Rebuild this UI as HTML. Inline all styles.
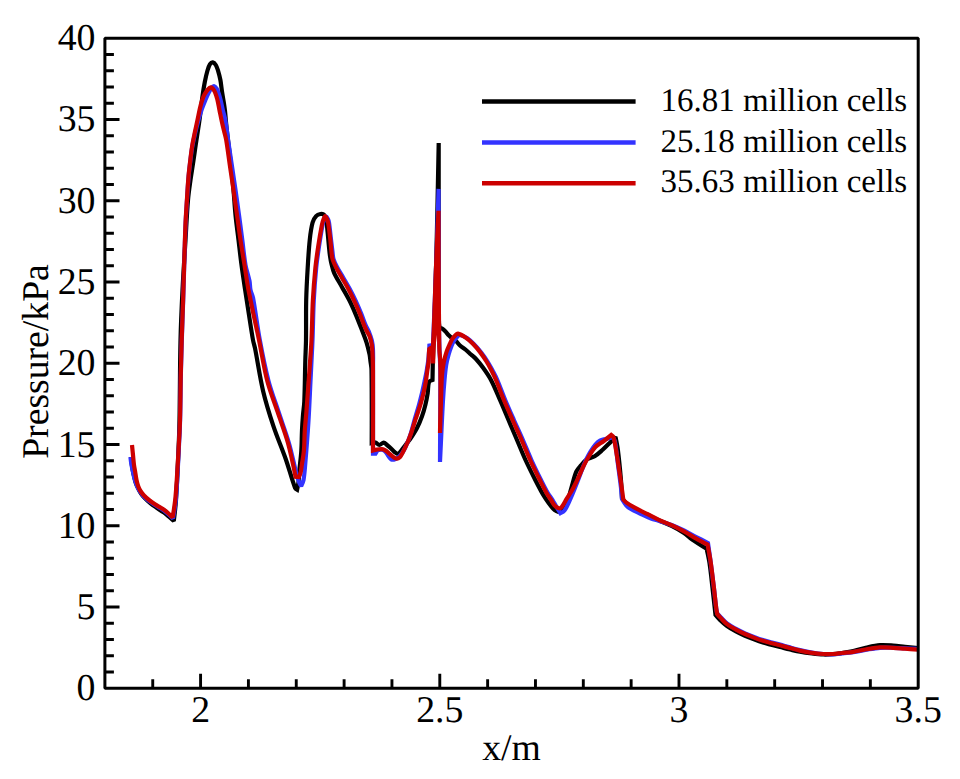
<!DOCTYPE html>
<html><head><meta charset="utf-8"><style>
html,body{margin:0;padding:0;background:#fff;}
svg{display:block;text-rendering:geometricPrecision;}
.t{font-family:"Liberation Serif",serif;font-size:37.8px;fill:#000;}
.l{font-family:"Liberation Serif",serif;font-size:33.0px;fill:#000;}
.a{font-family:"Liberation Serif",serif;font-size:37.7px;fill:#000;}
</style></head><body>
<svg width="960" height="779" viewBox="0 0 960 779">
<rect width="960" height="779" fill="#fff"/>
<path d="M131.00 457.00C131.00 457.00 131.56 463.02 132.00 466.00C132.39 468.68 132.92 471.35 133.50 474.00C134.09 476.68 134.66 479.39 135.50 482.00C136.16 484.06 137.07 486.05 138.00 488.00C138.90 489.88 139.83 491.78 141.00 493.50C142.17 495.21 143.56 496.81 145.00 498.30C146.56 499.91 148.27 501.38 150.00 502.80C151.93 504.38 153.97 505.84 156.00 507.30C157.64 508.48 159.32 509.58 161.00 510.70C162.32 511.58 163.73 512.35 165.00 513.30C166.40 514.35 167.68 515.55 169.00 516.70C170.62 518.11 173.80 521.00 173.80 521.00C173.80 521.00 175.54 507.02 176.00 500.00C177.10 483.35 177.77 466.67 178.50 450.00C178.94 440.00 179.32 430.00 179.50 420.00C179.98 393.34 179.88 366.66 180.50 340.00C180.88 323.33 181.67 306.66 182.50 290.00C183.33 273.33 184.48 256.67 185.50 240.00C186.31 226.67 186.89 213.31 188.00 200.00C188.56 193.31 189.58 186.65 190.50 180.00C191.38 173.65 192.46 167.34 193.40 161.00C194.19 155.67 194.91 150.33 195.70 145.00C196.34 140.66 197.04 136.33 197.70 132.00C198.31 128.00 198.95 124.01 199.50 120.00C200.05 116.01 200.50 112.00 201.00 108.00C201.50 104.00 201.92 99.99 202.50 96.00C203.18 91.32 203.89 86.64 204.80 82.00C205.56 78.14 206.40 74.27 207.50 70.50C208.13 68.34 208.82 66.01 210.00 64.20C210.58 63.31 211.92 62.28 212.80 62.40C213.85 62.55 215.11 63.91 215.80 65.00C216.88 66.71 217.49 68.82 218.10 70.80C219.02 73.82 219.82 76.90 220.40 80.00C221.12 83.83 221.42 87.74 222.00 91.60C222.58 95.44 223.31 99.26 223.90 103.10C224.31 105.73 224.70 108.36 225.00 111.00C225.34 113.99 225.52 117.00 225.80 120.00C226.12 123.33 226.43 126.67 226.80 130.00C227.17 133.34 227.60 136.67 228.00 140.00C229.00 148.33 230.08 156.66 231.00 165.00C231.92 173.32 232.75 181.66 233.50 190.00C234.25 198.33 234.67 206.68 235.50 215.00C236.33 223.35 237.50 231.67 238.50 240.00C239.50 248.33 240.39 256.68 241.50 265.00C242.66 273.68 244.00 282.34 245.30 291.00C246.50 299.00 247.74 307.00 249.00 315.00C250.31 323.34 251.50 331.70 253.00 340.00C253.50 342.77 254.45 345.44 255.00 348.20C257.85 362.57 259.83 377.16 263.20 391.40C265.99 403.19 269.67 414.80 273.50 426.30C277.20 437.40 281.93 448.15 285.80 459.20C289.13 468.72 291.64 478.63 295.10 488.00C295.41 488.83 297.10 489.80 297.10 489.80C297.10 489.80 298.19 484.62 298.50 482.00C298.92 478.45 298.98 474.86 299.30 471.30C299.91 464.46 300.85 457.65 301.30 450.80C301.75 443.98 301.68 437.13 302.00 430.30C302.24 425.20 302.59 420.09 303.00 415.00C303.36 410.53 304.11 406.08 304.30 401.60C304.88 387.91 304.92 374.20 305.30 360.50C305.49 353.67 305.90 346.84 306.00 340.00C306.20 326.67 305.89 313.33 306.20 300.00C306.45 289.23 307.06 278.46 307.70 267.70C308.26 258.26 308.78 248.80 309.80 239.40C310.41 233.73 311.13 227.95 312.60 222.50C313.23 220.18 314.53 217.81 316.10 216.10C317.13 214.98 318.91 214.27 320.40 214.00C321.51 213.80 323.22 213.89 323.90 214.70C325.19 216.23 325.83 218.82 326.30 221.00C327.07 224.58 327.22 228.33 327.60 232.00C328.05 236.33 328.37 240.67 328.80 245.00C329.17 248.67 329.48 252.35 330.00 256.00C330.38 258.68 330.85 261.37 331.50 264.00C332.25 267.07 332.90 270.24 334.20 273.10C336.37 277.87 339.34 282.30 341.90 286.90C344.47 291.53 347.23 296.07 349.60 300.80C351.86 305.30 353.84 309.95 355.80 314.60C357.94 319.69 359.91 324.85 361.90 330.00C363.48 334.08 365.19 338.13 366.50 342.30C367.76 346.33 368.73 350.47 369.60 354.60C370.03 356.64 370.14 358.73 370.40 360.80C370.78 363.87 371.45 366.91 371.50 370.00C371.88 394.31 371.70 443.00 371.70 443.00C371.70 443.00 374.27 442.20 375.40 442.50C376.80 442.87 377.98 445.00 379.30 445.00C380.74 445.00 382.29 442.50 383.70 442.50C384.85 442.50 385.92 444.14 387.00 445.00C388.29 446.04 389.58 447.08 390.80 448.20C392.15 449.45 393.29 450.95 394.70 452.10C395.65 452.88 396.94 454.20 397.90 454.00C399.07 453.76 400.13 451.95 401.10 450.80C402.66 448.95 404.01 446.92 405.50 445.00C406.98 443.09 408.65 441.30 410.00 439.30C412.48 435.64 414.96 431.92 417.00 428.00C418.96 424.25 420.56 420.28 422.00 416.30C423.36 412.52 424.44 408.61 425.40 404.70C426.34 400.88 427.08 396.99 427.70 393.10C428.28 389.42 427.82 385.21 429.00 382.00C429.42 380.84 432.50 380.00 432.50 380.00C432.50 380.00 432.80 363.00 432.80 363.00C432.80 363.00 434.03 334.34 434.50 320.00C435.26 296.67 435.95 273.34 436.50 250.00C437.35 214.34 438.70 143.00 438.70 143.00C438.70 143.00 438.68 214.33 438.70 250.00C438.71 266.67 438.73 283.33 438.80 300.00C438.83 307.67 438.78 315.34 439.00 323.00C439.04 324.51 439.60 327.50 439.60 327.50C439.60 327.50 441.27 328.12 442.00 328.60C443.07 329.29 444.09 330.10 445.00 331.00C446.42 332.40 447.58 334.08 449.00 335.50C450.08 336.58 451.29 337.55 452.50 338.50C453.63 339.38 454.96 340.03 456.00 341.00C457.46 342.36 458.52 344.16 460.00 345.50C461.85 347.16 464.07 348.42 466.00 350.00C467.73 351.42 469.33 353.00 471.00 354.50C472.67 356.00 474.50 357.35 476.00 359.00C478.53 361.78 480.91 364.74 483.10 367.80C485.91 371.74 488.75 375.72 491.00 380.00C494.39 386.46 497.07 393.30 500.00 400.00C502.90 406.64 505.67 413.33 508.50 420.00C511.33 426.67 514.17 433.33 517.00 440.00C519.83 446.67 522.49 453.42 525.50 460.00C528.59 466.75 531.94 473.38 535.30 480.00C537.87 485.05 540.45 490.11 543.30 495.00C545.02 497.94 547.01 500.73 549.00 503.50C550.24 505.23 551.50 507.00 553.00 508.50C554.00 509.50 555.23 510.39 556.50 511.00C557.66 511.56 559.42 512.72 560.30 512.00C562.92 509.85 565.41 505.91 567.00 502.40C569.18 497.58 570.05 492.13 571.60 487.00C573.15 481.86 574.20 476.46 576.30 471.60C577.30 469.29 579.23 467.42 580.90 465.50C582.80 463.32 584.65 460.89 587.00 459.30C589.25 457.79 592.36 457.61 594.70 456.20C597.49 454.51 599.94 452.19 602.40 450.00C605.11 447.59 607.62 444.96 610.20 442.40C611.99 440.62 615.50 437.00 615.50 437.00C615.50 437.00 617.34 445.63 617.90 450.00C619.14 459.73 620.06 469.52 620.90 479.30C621.43 485.52 622.00 498.00 622.00 498.00C622.00 498.00 624.38 501.66 626.00 503.00C628.61 505.16 631.70 506.85 634.70 508.50C638.70 510.69 642.90 512.50 647.00 514.50C651.10 516.50 655.17 518.57 659.30 520.50C663.37 522.40 667.60 523.97 671.60 526.00C675.83 528.14 680.05 530.39 684.00 533.00C686.92 534.93 689.33 537.59 692.20 539.60C696.86 542.86 706.60 548.80 706.60 548.80C706.60 548.80 708.78 558.23 709.50 563.00C710.75 571.29 711.54 579.66 712.50 588.00C713.54 597.00 715.50 615.00 715.50 615.00C715.50 615.00 718.38 618.45 720.00 620.00C722.22 622.12 724.51 624.22 727.00 626.00C729.84 628.02 732.93 629.73 736.00 631.40C738.93 633.00 741.95 634.44 745.00 635.80C747.95 637.11 750.98 638.26 754.00 639.40C756.98 640.53 759.96 641.65 763.00 642.60C765.96 643.52 768.99 644.22 772.00 645.00C774.66 645.69 777.33 646.33 780.00 647.00C783.33 647.83 786.66 648.70 790.00 649.50C793.33 650.30 796.64 651.19 800.00 651.80C803.97 652.52 807.99 653.04 812.00 653.50C815.75 653.94 819.53 654.37 823.30 654.50C826.53 654.61 829.78 654.46 833.00 654.20C836.01 653.96 839.01 653.47 842.00 653.00C845.78 652.40 849.57 651.83 853.30 651.00C857.80 650.00 862.19 648.48 866.70 647.50C871.09 646.55 875.54 645.52 880.00 645.20C884.40 644.89 888.88 645.32 893.30 645.60C897.21 645.85 901.10 646.42 905.00 646.80C909.33 647.22 918.00 648.00 918.00 648.00" fill="none" stroke="#000000" stroke-width="4.2" stroke-linejoin="miter" stroke-miterlimit="2" stroke-linecap="butt"/>
<path d="M130.40 457.00C130.40 457.00 131.04 462.35 131.50 465.00C131.91 467.35 132.48 469.67 133.00 472.00C133.52 474.34 133.95 476.70 134.60 479.00C135.22 481.20 135.94 483.39 136.80 485.50C137.50 487.22 138.32 488.92 139.30 490.50C140.39 492.26 141.60 493.98 143.00 495.50C144.67 497.31 146.56 498.97 148.50 500.50C150.56 502.13 152.79 503.56 155.00 505.00C156.63 506.06 158.34 506.99 160.00 508.00C161.34 508.82 162.75 509.56 164.00 510.50C165.41 511.56 166.68 512.82 168.00 514.00C169.68 515.49 173.00 518.50 173.00 518.50C173.00 518.50 175.42 504.88 176.00 498.00C177.32 482.31 177.87 466.54 178.70 450.80C179.24 440.54 179.81 430.27 180.10 420.00C180.54 404.34 180.57 388.67 180.90 373.00C181.13 362.00 181.45 351.00 181.80 340.00C182.22 326.67 182.77 313.33 183.20 300.00C184.00 275.33 184.56 250.66 185.50 226.00C185.83 217.33 186.46 208.66 187.00 200.00C187.49 192.16 187.94 184.32 188.60 176.50C189.04 171.32 189.67 166.16 190.30 161.00C190.87 156.33 191.41 151.64 192.20 147.00C192.94 142.64 193.89 138.31 194.90 134.00C195.99 129.31 197.22 124.65 198.50 120.00C199.42 116.65 200.37 113.29 201.50 110.00C202.67 106.62 204.04 103.31 205.40 100.00C206.37 97.64 207.35 95.27 208.50 93.00C209.38 91.27 210.31 89.50 211.50 88.00C212.11 87.23 213.13 86.12 213.90 86.20C214.79 86.29 215.87 87.56 216.50 88.50C217.40 89.83 217.94 91.46 218.50 93.00C219.24 95.06 219.86 97.17 220.40 99.30C221.30 102.84 221.95 106.45 222.80 110.00C223.48 112.85 224.43 115.63 225.00 118.50C225.76 122.30 226.25 126.16 226.80 130.00C227.28 133.33 227.62 136.67 228.10 140.00C229.29 148.34 230.57 156.67 231.80 165.00C233.03 173.33 234.30 181.66 235.50 190.00C236.70 198.33 237.87 206.66 239.00 215.00C240.13 223.33 241.22 231.66 242.30 240.00C243.38 248.33 244.05 256.74 245.50 265.00C246.45 270.41 248.42 275.62 249.50 281.00C250.09 283.95 249.88 287.06 250.50 290.00C251.05 292.63 252.51 295.05 253.00 297.70C255.61 311.72 257.19 325.96 259.80 340.00C262.35 353.73 264.98 367.50 268.50 381.00C271.24 391.50 275.20 401.68 278.60 412.00C282.00 422.34 285.87 432.55 288.90 443.00C291.67 452.55 293.51 462.37 296.00 472.00C296.87 475.37 297.79 478.75 299.00 482.00C299.53 483.42 301.20 486.00 301.20 486.00C301.20 486.00 303.12 482.09 303.50 480.00C304.49 474.53 304.83 468.88 305.30 463.30C306.46 449.61 307.53 435.91 308.40 422.20C309.27 408.48 309.81 394.73 310.50 381.00C311.18 367.33 311.94 353.67 312.50 340.00C313.04 326.67 313.12 313.32 313.80 300.00C314.35 289.22 315.16 278.44 316.20 267.70C316.89 260.61 317.95 253.55 319.00 246.50C320.05 239.42 321.12 232.32 322.50 225.30C322.92 223.15 323.55 220.99 324.40 219.00C324.79 218.09 325.61 216.60 326.20 216.60C326.78 216.60 327.48 218.12 327.90 219.00C328.42 220.09 328.82 221.29 329.00 222.50C329.85 228.09 330.33 233.77 331.00 239.40C331.50 243.60 331.96 247.80 332.50 252.00C332.80 254.34 332.82 256.76 333.50 259.00C334.32 261.73 335.67 264.35 337.00 266.90C338.93 270.59 341.21 274.09 343.30 277.70C345.38 281.29 347.54 284.84 349.50 288.50C351.67 292.54 353.76 296.64 355.70 300.80C357.59 304.84 359.32 308.97 361.00 313.10C362.65 317.17 363.99 321.36 365.70 325.40C366.66 327.66 368.08 329.72 369.00 332.00C370.15 334.86 371.23 337.80 371.90 340.80C372.57 343.80 372.88 346.92 373.00 350.00C373.25 356.65 373.00 363.33 373.00 370.00C373.00 397.87 373.00 453.60 373.00 453.60C373.00 453.60 375.50 453.60 375.50 453.60C375.50 453.60 377.50 450.20 377.50 450.20C377.50 450.20 378.83 449.85 379.50 449.80C380.49 449.72 381.59 449.50 382.50 449.80C383.59 450.16 384.69 450.94 385.50 451.80C386.65 453.01 387.37 454.65 388.40 456.00C389.33 457.22 390.15 458.97 391.40 459.50C392.52 459.97 394.27 459.51 395.50 459.00C397.07 458.35 398.59 457.23 399.80 456.00C401.29 454.49 402.54 452.66 403.60 450.80C405.11 448.16 406.34 445.32 407.50 442.50C408.81 439.32 409.98 436.08 411.00 432.80C412.31 428.58 413.29 424.25 414.50 420.00C415.96 414.89 417.57 409.82 419.00 404.70C420.07 400.85 421.08 396.98 422.00 393.10C422.91 389.28 423.70 385.44 424.50 381.60C425.30 377.74 426.12 373.88 426.80 370.00C427.38 366.68 427.90 363.35 428.30 360.00C428.70 356.68 428.95 353.34 429.20 350.00C429.31 348.50 429.40 345.50 429.40 345.50C429.40 345.50 433.00 345.00 433.00 345.00C433.00 345.00 433.53 331.67 433.80 325.00C434.20 315.00 434.61 305.00 435.00 295.00C435.58 280.00 436.19 265.00 436.70 250.00C437.39 229.64 438.60 188.90 438.60 188.90C438.60 188.90 438.56 236.30 438.60 260.00C438.63 276.67 438.69 293.33 438.80 310.00C438.86 318.33 438.95 326.67 439.10 335.00C439.19 340.00 439.33 345.00 439.50 350.00C439.73 356.67 440.19 363.33 440.30 370.00C440.46 380.00 440.33 390.00 440.30 400.00C440.23 420.67 440.00 462.00 440.00 462.00C440.00 462.00 440.98 440.67 441.50 430.00C441.98 420.00 442.40 409.99 443.00 400.00C443.40 393.33 443.89 386.66 444.50 380.00C444.96 374.99 445.41 369.96 446.20 365.00C446.74 361.63 447.58 358.29 448.50 355.00C449.35 351.96 450.33 348.93 451.50 346.00C452.33 343.93 453.34 341.90 454.50 340.00C455.17 338.90 456.08 337.92 457.00 337.00C457.75 336.25 458.55 334.91 459.50 335.00C461.89 335.24 464.77 336.57 467.00 338.00C469.60 339.67 471.82 342.05 474.00 344.30C476.55 346.92 478.95 349.72 481.20 352.60C483.55 355.62 485.76 358.77 487.80 362.00C489.63 364.90 491.20 367.97 492.80 371.00C494.37 373.97 495.98 376.92 497.30 380.00C500.12 386.59 502.45 393.38 505.20 400.00C507.99 406.71 510.96 413.35 513.90 420.00C516.86 426.69 519.97 433.30 522.90 440.00C525.80 446.64 528.41 453.40 531.40 460.00C534.45 466.74 537.71 473.38 541.00 480.00C543.18 484.38 545.35 488.78 547.80 493.00C549.22 495.44 551.11 497.60 552.60 500.00C554.01 502.27 555.14 504.70 556.50 507.00C557.74 509.10 560.40 513.20 560.40 513.20C560.40 513.20 563.51 511.74 564.50 510.50C566.21 508.34 567.26 505.55 568.50 503.00C569.93 500.05 571.23 497.03 572.50 494.00C574.23 489.86 575.86 485.68 577.50 481.50C579.13 477.34 580.64 473.14 582.30 469.00C583.64 465.64 584.97 462.27 586.50 459.00C587.70 456.44 589.02 453.91 590.50 451.50C591.99 449.08 593.55 446.64 595.40 444.50C596.72 442.97 598.26 441.45 600.00 440.50C601.63 439.61 603.66 439.46 605.50 439.00C606.99 438.63 608.53 438.42 610.00 438.00C610.86 437.75 612.50 437.00 612.50 437.00C612.50 437.00 614.50 439.51 614.80 441.00C616.30 448.51 616.88 456.33 617.90 464.00C618.92 471.66 620.00 479.32 620.90 487.00C621.37 490.99 622.00 499.00 622.00 499.00C622.00 499.00 624.44 503.20 626.00 505.00C627.27 506.47 628.83 507.79 630.50 508.80C633.50 510.62 636.81 511.99 640.00 513.50C643.64 515.22 647.25 517.04 651.00 518.50C653.69 519.54 656.54 520.13 659.30 521.00C663.41 522.30 667.58 523.45 671.60 525.00C675.81 526.62 679.94 528.53 684.00 530.50C688.17 532.53 692.19 534.86 696.30 537.00C700.19 539.02 708.00 543.00 708.00 543.00C708.00 543.00 709.85 555.79 710.70 562.20C711.78 570.39 712.81 578.59 713.80 586.80C714.65 593.86 715.30 600.95 716.20 608.00C716.44 609.85 717.20 613.50 717.20 613.50C717.20 613.50 719.51 615.99 720.70 617.20C722.78 619.32 724.66 621.71 727.00 623.50C729.76 625.61 732.93 627.23 736.00 628.90C738.93 630.50 741.95 631.94 745.00 633.30C747.95 634.61 750.98 635.76 754.00 636.90C756.98 638.03 759.96 639.15 763.00 640.10C765.96 641.02 769.00 641.71 772.00 642.50C774.67 643.21 777.34 643.88 780.00 644.60C783.34 645.51 786.66 646.50 790.00 647.40C793.32 648.30 796.65 649.22 800.00 650.00C803.98 650.92 807.98 651.81 812.00 652.50C815.74 653.14 819.52 653.68 823.30 654.00C826.52 654.28 829.77 654.39 833.00 654.30C836.01 654.22 839.00 653.81 842.00 653.50C845.77 653.11 849.55 652.78 853.30 652.20C857.79 651.51 862.22 650.44 866.70 649.70C871.12 648.97 875.54 648.12 880.00 647.80C884.41 647.48 888.87 647.71 893.30 647.80C897.20 647.88 901.10 648.14 905.00 648.30C909.33 648.48 918.00 648.80 918.00 648.80" fill="none" stroke="#3333ff" stroke-width="4.2" stroke-linejoin="miter" stroke-miterlimit="2" stroke-linecap="butt"/>
<path d="M132.00 445.00C132.00 445.00 132.67 451.67 133.00 455.00C133.33 458.33 133.57 461.68 134.00 465.00C134.30 467.35 134.81 469.66 135.20 472.00C135.64 474.66 135.94 477.36 136.50 480.00C136.97 482.20 137.53 484.40 138.30 486.50C138.87 488.06 139.61 489.60 140.50 491.00C141.51 492.60 142.70 494.12 144.00 495.50C145.53 497.12 147.25 498.60 149.00 500.00C150.92 501.53 152.95 502.94 155.00 504.30C156.62 505.37 158.33 506.30 160.00 507.30C161.33 508.10 162.74 508.80 164.00 509.70C165.40 510.70 166.72 511.84 168.00 513.00C169.59 514.44 172.60 517.50 172.60 517.50C172.60 517.50 174.89 503.87 175.50 497.00C176.86 481.64 177.60 466.21 178.50 450.80C179.10 440.54 179.70 430.27 180.00 420.00C180.46 404.34 180.47 388.67 180.80 373.00C181.03 362.00 181.35 351.00 181.70 340.00C182.12 326.67 182.67 313.33 183.10 300.00C183.90 275.33 184.46 250.66 185.40 226.00C185.73 217.33 186.36 208.66 186.90 200.00C187.39 192.16 187.84 184.32 188.50 176.50C188.94 171.32 189.59 166.16 190.20 161.00C190.75 156.33 191.26 151.64 192.00 147.00C192.69 142.64 193.62 138.32 194.50 134.00C195.45 129.32 196.51 124.67 197.50 120.00C198.35 116.00 199.07 111.98 200.00 108.00C200.63 105.31 201.33 102.62 202.20 100.00C202.83 98.12 203.56 96.24 204.50 94.50C205.46 92.74 206.59 91.00 207.90 89.50C208.69 88.60 209.82 87.43 210.80 87.30C211.52 87.20 212.44 88.14 213.00 88.80C213.84 89.80 214.49 91.06 215.00 92.30C215.93 94.56 216.71 96.92 217.30 99.30C218.24 103.09 218.82 106.97 219.60 110.80C220.39 114.67 221.15 118.55 222.00 122.40C222.71 125.61 223.54 128.80 224.30 132.00C224.94 134.67 225.75 137.30 226.20 140.00C227.58 148.30 228.58 156.67 229.80 165.00C231.02 173.34 232.30 181.66 233.50 190.00C234.70 198.33 235.83 206.67 237.00 215.00C238.17 223.33 239.25 231.68 240.50 240.00C241.75 248.35 243.17 256.67 244.50 265.00C245.83 273.33 246.90 281.72 248.50 290.00C251.73 306.72 255.55 323.32 259.00 340.00C261.82 353.66 263.81 367.53 267.30 381.00C270.01 391.49 274.16 401.60 277.60 411.90C281.03 422.17 285.01 432.28 287.90 442.70C291.01 453.91 295.60 476.80 295.60 476.80C295.60 476.80 298.80 477.00 298.80 477.00C298.80 477.00 300.15 474.40 300.50 473.00C301.15 470.40 301.39 467.67 301.80 465.00C302.52 460.27 303.49 455.56 303.90 450.80C304.49 443.99 304.36 437.12 304.80 430.30C305.19 424.16 305.93 418.04 306.40 411.90C307.46 398.20 308.43 384.50 309.40 370.80C310.13 360.54 310.99 350.28 311.50 340.00C312.16 326.68 312.18 313.32 312.90 300.00C313.48 289.22 314.34 278.44 315.40 267.70C316.10 260.61 317.14 253.55 318.20 246.50C319.27 239.41 320.42 232.33 321.80 225.30C322.22 223.16 322.82 221.02 323.60 219.00C323.99 217.99 324.72 216.27 325.30 216.20C325.82 216.14 326.51 217.73 326.90 218.60C327.45 219.83 327.88 221.16 328.10 222.50C329.01 228.09 329.65 233.76 330.30 239.40C330.78 243.59 331.03 247.81 331.50 252.00C331.76 254.34 331.85 256.75 332.50 259.00C333.28 261.72 334.52 264.35 335.80 266.90C337.65 270.59 339.85 274.11 341.90 277.70C343.95 281.31 346.15 284.84 348.10 288.50C350.25 292.54 352.26 296.66 354.20 300.80C356.10 304.86 357.91 308.95 359.60 313.10C361.25 317.15 362.57 321.34 364.20 325.40C365.03 327.47 366.00 329.50 367.00 331.50C367.80 333.10 369.01 334.52 369.60 336.20C370.64 339.16 371.45 342.28 371.90 345.40C372.48 349.45 372.52 353.60 372.70 357.70C372.88 361.80 372.99 365.90 373.00 370.00C373.09 396.83 373.00 450.50 373.00 450.50C373.00 450.50 375.45 449.78 376.70 449.60C378.38 449.35 380.14 449.02 381.80 449.20C383.14 449.35 384.53 449.91 385.70 450.60C386.90 451.31 387.82 452.49 388.90 453.40C389.95 454.29 390.99 455.19 392.10 456.00C393.32 456.89 394.55 458.29 395.90 458.50C397.12 458.69 398.89 458.11 399.80 457.20C401.45 455.55 402.45 453.00 403.60 450.80C405.02 448.10 406.30 445.31 407.50 442.50C408.87 439.31 410.16 436.08 411.30 432.80C412.76 428.58 413.93 424.26 415.30 420.00C415.70 418.76 416.19 417.54 416.60 416.30C417.89 412.44 419.24 408.60 420.40 404.70C421.54 400.87 422.59 397.00 423.50 393.10C424.39 389.30 425.15 385.45 425.80 381.60C426.45 377.75 426.87 373.87 427.40 370.00C427.77 367.33 428.26 364.68 428.50 362.00C428.80 358.68 428.80 355.33 429.00 352.00C429.06 351.00 429.30 349.00 429.30 349.00C429.30 349.00 433.00 346.50 433.00 346.50C433.00 346.50 433.59 335.50 433.80 330.00C434.32 316.67 434.72 303.33 435.20 290.00C435.68 276.67 436.14 263.33 436.70 250.00C437.24 236.93 438.50 210.80 438.50 210.80C438.50 210.80 438.54 243.60 438.60 260.00C438.64 273.33 438.70 286.67 438.80 300.00C438.87 310.00 438.98 320.00 439.10 330.00C439.18 336.67 439.15 343.34 439.40 350.00C439.55 354.01 440.21 357.99 440.30 362.00C440.58 374.66 440.55 387.33 440.50 400.00C440.45 411.00 440.00 433.00 440.00 433.00C440.00 433.00 440.62 411.00 441.00 400.00C441.29 391.67 441.39 383.31 442.00 375.00C442.32 370.64 442.95 366.28 443.80 362.00C444.51 358.41 445.53 354.86 446.70 351.40C447.59 348.76 448.84 346.24 450.00 343.70C450.77 342.01 451.51 340.26 452.50 338.70C453.24 337.53 454.20 336.46 455.20 335.50C455.97 334.76 456.87 333.42 457.80 333.60C460.33 334.09 463.20 335.89 465.60 337.50C468.17 339.23 470.51 341.39 472.70 343.60C475.27 346.19 477.67 349.00 479.90 351.90C482.27 354.97 484.45 358.21 486.50 361.50C488.31 364.41 489.93 367.45 491.50 370.50C493.10 373.62 494.64 376.77 496.00 380.00C498.78 386.60 501.15 393.38 503.90 400.00C506.69 406.71 509.66 413.35 512.60 420.00C515.56 426.69 518.67 433.30 521.60 440.00C524.50 446.64 527.10 453.41 530.10 460.00C533.17 466.74 536.50 473.37 539.80 480.00C541.97 484.37 544.11 488.76 546.50 493.00C547.87 495.43 549.58 497.66 551.10 500.00C552.24 501.76 553.12 503.77 554.50 505.30C555.52 506.43 556.93 507.53 558.30 508.00C559.16 508.30 560.58 508.27 561.20 507.60C563.35 505.24 564.80 501.80 566.60 498.90C568.50 495.83 570.56 492.85 572.30 489.70C574.39 485.92 576.24 482.00 578.10 478.10C580.10 473.90 581.81 469.56 583.90 465.40C585.68 461.86 587.60 458.36 589.70 455.00C591.43 452.23 593.12 449.28 595.40 447.00C597.72 444.68 600.85 443.20 603.50 441.20C606.15 439.20 611.30 435.00 611.30 435.00C611.30 435.00 613.31 436.43 613.60 437.50C615.14 443.10 615.82 449.15 616.80 455.00C617.75 460.65 618.55 466.33 619.40 472.00C620.25 477.66 621.10 483.33 621.90 489.00C622.40 492.50 623.30 499.50 623.30 499.50C623.30 499.50 625.22 501.75 626.40 502.60C629.02 504.49 631.86 506.14 634.70 507.70C638.72 509.91 642.90 511.83 647.00 513.90C651.10 515.97 655.13 518.18 659.30 520.10C663.33 521.95 667.57 523.35 671.60 525.20C675.80 527.12 679.94 529.20 684.00 531.40C688.17 533.66 692.16 536.27 696.30 538.60C700.03 540.70 707.60 544.70 707.60 544.70C707.60 544.70 709.84 556.34 710.70 562.20C711.90 570.37 712.81 578.59 713.80 586.80C714.65 593.86 715.32 600.94 716.20 608.00C716.45 610.01 717.20 614.00 717.20 614.00C717.20 614.00 719.49 616.64 720.70 617.90C722.76 620.04 724.66 622.41 727.00 624.20C729.76 626.31 732.93 627.93 736.00 629.60C738.93 631.20 741.95 632.64 745.00 634.00C747.95 635.31 750.98 636.46 754.00 637.60C756.98 638.73 759.96 639.85 763.00 640.80C765.96 641.72 769.00 642.41 772.00 643.20C774.67 643.91 777.34 644.59 780.00 645.30C783.34 646.19 786.66 647.12 790.00 648.00C793.33 648.88 796.64 649.87 800.00 650.60C803.97 651.47 807.98 652.21 812.00 652.80C815.75 653.35 819.52 653.78 823.30 654.00C826.52 654.18 829.78 654.17 833.00 654.00C836.01 653.84 839.00 653.33 842.00 653.00C845.77 652.59 849.56 652.38 853.30 651.80C857.79 651.11 862.21 649.94 866.70 649.20C871.11 648.47 875.55 647.63 880.00 647.40C884.41 647.17 888.87 647.57 893.30 647.80C897.21 648.00 901.10 648.42 905.00 648.70C909.33 649.02 918.00 649.60 918.00 649.60" fill="none" stroke="#cc0000" stroke-width="4.2" stroke-linejoin="miter" stroke-miterlimit="2" stroke-linecap="butt"/>
<polyline points="432.9,363.5 433.4,345.0 435.3,330.0 436.6,290.0 437.3,260.0" fill="none" stroke="#cc0000" stroke-width="4.6"/>

<path d="M152.74 688.30V679.30M200.58 688.30V673.70M248.42 688.30V679.30M296.26 688.30V679.30M344.11 688.30V679.30M391.95 688.30V679.30M439.79 688.30V673.70M487.63 688.30V679.30M535.47 688.30V679.30M583.31 688.30V679.30M631.15 688.30V679.30M678.99 688.30V673.70M726.84 688.30V679.30M774.68 688.30V679.30M822.52 688.30V679.30M870.36 688.30V679.30M104.90 672.05H113.90M104.90 655.79H113.90M104.90 639.54H113.90M104.90 623.29H113.90M104.90 607.04H119.50M104.90 590.78H113.90M104.90 574.53H113.90M104.90 558.28H113.90M104.90 542.03H113.90M104.90 525.77H119.50M104.90 509.52H113.90M104.90 493.27H113.90M104.90 477.02H113.90M104.90 460.76H113.90M104.90 444.51H119.50M104.90 428.26H113.90M104.90 412.01H113.90M104.90 395.75H113.90M104.90 379.50H113.90M104.90 363.25H119.50M104.90 347.00H113.90M104.90 330.75H113.90M104.90 314.49H113.90M104.90 298.24H113.90M104.90 281.99H119.50M104.90 265.74H113.90M104.90 249.48H113.90M104.90 233.23H113.90M104.90 216.98H113.90M104.90 200.73H119.50M104.90 184.47H113.90M104.90 168.22H113.90M104.90 151.97H113.90M104.90 135.72H113.90M104.90 119.46H119.50M104.90 103.21H113.90M104.90 86.96H113.90M104.90 70.71H113.90M104.90 54.45H113.90" stroke="#000" stroke-width="2.9" fill="none"/>
<rect x="104.9" y="38.2" width="813.30" height="650.10" fill="none" stroke="#000" stroke-width="3.0" stroke-linejoin="bevel"/>
<text x="95.5" y="688.30" text-anchor="end" dominant-baseline="central" class="t">0</text><text x="95.5" y="607.04" text-anchor="end" dominant-baseline="central" class="t">5</text><text x="95.5" y="525.77" text-anchor="end" dominant-baseline="central" class="t">10</text><text x="95.5" y="444.51" text-anchor="end" dominant-baseline="central" class="t">15</text><text x="95.5" y="363.25" text-anchor="end" dominant-baseline="central" class="t">20</text><text x="95.5" y="281.99" text-anchor="end" dominant-baseline="central" class="t">25</text><text x="95.5" y="200.73" text-anchor="end" dominant-baseline="central" class="t">30</text><text x="95.5" y="119.46" text-anchor="end" dominant-baseline="central" class="t">35</text><text x="95.5" y="38.20" text-anchor="end" dominant-baseline="central" class="t">40</text><text x="200.58" y="722" text-anchor="middle" class="t">2</text><text x="439.79" y="722" text-anchor="middle" class="t">2.5</text><text x="678.99" y="722" text-anchor="middle" class="t">3</text><text x="918.20" y="722" text-anchor="middle" class="t">3.5</text>
<text x="511.5" y="760" text-anchor="middle" class="a">x/m</text>
<text transform="translate(48.1,361.5) rotate(-90)" text-anchor="middle" class="a">Pressure/kPa</text>
<line x1="482" y1="101.6" x2="635.6" y2="101.6" stroke="#000000" stroke-width="4.5"/><text x="660.6" y="111.0" class="l">16.81 million cells</text><line x1="482" y1="142.4" x2="635.6" y2="142.4" stroke="#3333ff" stroke-width="4.5"/><text x="660.6" y="151.6" class="l">25.18 million cells</text><line x1="482" y1="183.2" x2="635.6" y2="183.2" stroke="#cc0000" stroke-width="4.5"/><text x="660.6" y="192.2" class="l">35.63 million cells</text>
</svg>
</body></html>
